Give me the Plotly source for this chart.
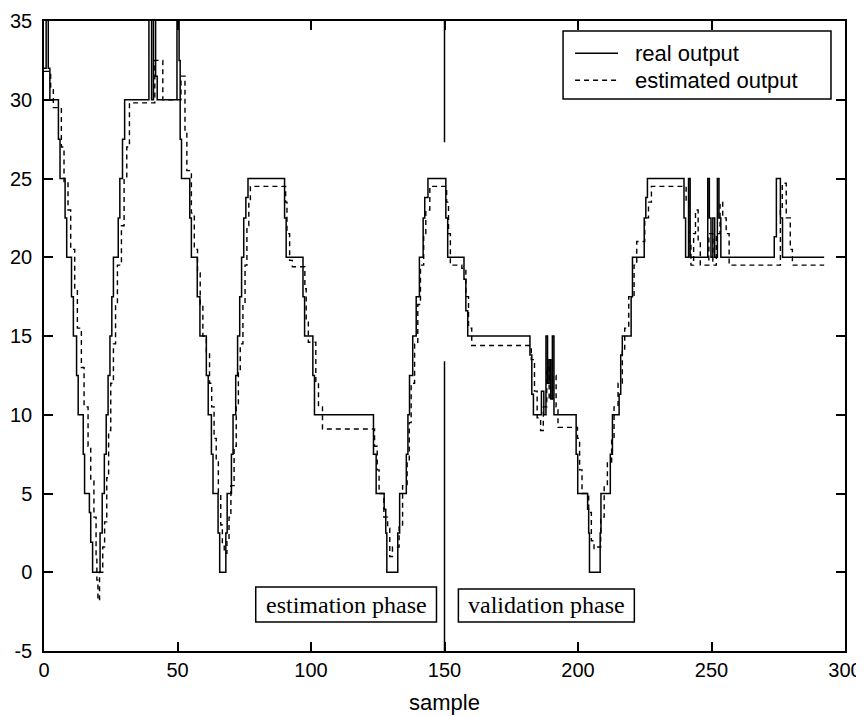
import plotly.graph_objects as go

# ---------------- data ----------------
x_ticks = [0, 50, 100, 150, 200, 250, 300]
y_ticks = [-5, 0, 5, 10, 15, 20, 25, 30, 35]

# real output: sample where each new level starts, and the level
real_x = [0, 0.8, 1.6, 2.2, 5.4, 6, 7.9, 8.5, 10.3, 11, 12.2, 12.8, 14.7, 15.2, 17, 17.5, 18.2,
          21, 21.8, 22.6, 23.3, 24, 24.7, 25.4, 26, 27.8, 28.4, 29.4, 30.2,
          39.3, 40.3, 41, 41.8, 42.4, 49.8, 50.6, 51, 51.5,
          54.6, 55.2, 57.4, 58.4, 60.8, 61.5, 62.7, 63.3, 65.2, 65.8, 68.1, 68.6, 70.2, 70.8, 71.8, 72.5,
          73.3, 74, 74.8, 75.6, 76.4,
          90.1, 90.7, 97, 97.6, 100.7, 101.3,
          123.4, 124.4, 127.4, 128, 128.4, 132.5, 133.2, 135.7, 136.3, 136.9, 138.1, 139.4, 140.6, 142,
          142.6, 143.8,
          150.5, 151.2, 157.3, 158, 158.7, 182, 182.7, 183.3,
          186.3, 187.2, 188, 188.6, 189.2, 189.8, 190.4, 191,
          199.3, 199.9, 203.6, 204, 204.3, 208.3, 208.6, 212.1, 212.9, 215.4, 216, 216.6, 219.9, 220.4,
          224.8, 225.4, 226,
          239.7, 240.3, 241.4, 242, 248.6, 249.2, 249.8, 250.5, 251.2, 252.2, 252.8, 253.5,
          273.5, 274.3, 275.8, 276.6, 292.2]
real_y = [32, 36, 32, 30, 27.5, 25, 22.5, 20, 17.5, 15, 12.5, 10, 7.5, 5, 3.8, 1.9, 0,
          2.5, 5, 7.5, 10, 12.5, 15, 17.5, 20, 22.5, 25, 27.5, 30,
          36, 30, 36, 31.5, 30, 36, 32.5, 27.5, 25,
          22.5, 20, 17.5, 15, 12.5, 10, 7.5, 5, 2.5, 0, 2.5, 5, 7.5, 10, 12.5, 15,
          17.5, 20, 22.5, 23.8, 25,
          22.5, 20, 17.5, 15, 12.5, 10,
          7.5, 5, 4, 2.5, 0, 2.5, 5, 7.5, 10, 12.5, 15, 17.5, 20, 22.5,
          23.8, 25,
          22.5, 20, 18.6, 16.6, 15, 13.8, 11.3, 10,
          11.5, 10, 15, 12, 13.5, 11, 15, 10,
          7.5, 5, 4, 2.5, 0, 2.5, 5, 7.5, 10, 11.3, 13.8, 15, 17.5, 20,
          22.5, 23.8, 25,
          22.5, 20, 25, 20, 25, 22.5, 20, 22.5, 20, 25, 22.5, 20,
          21.3, 25, 22.5, 20, 20]

# estimated output
est_x = [0, 2.5, 3.5, 6.5, 7.5, 9, 10, 11.5, 12.5, 14, 15, 16.5, 17.5, 18.7, 19.5, 19.8, 20.2, 20.8,
         22, 22.7, 23.5, 24.2, 25, 26, 26.8, 27.5, 29, 30, 31, 32,
         41.5, 44.5, 51.3, 52.8, 53.5, 55.2, 56.3, 57.5, 58.5, 59.5,
         60.8, 62, 62.8, 63.7, 64.5, 65.3, 66.2, 66.8, 67.5, 68.5, 69.3, 70, 71.2, 72, 72.8, 73.5,
         74.5, 75.3, 76, 76.7, 77.3,
         90.5, 91, 92, 93, 97.7, 98.2, 99, 101.8, 102.8, 104.3,
         123.8, 124.8, 125.5, 127.3, 128.7, 129.5, 130.5, 133, 134.3, 136, 136.8, 137.5, 138.8, 140,
         141, 142.2, 143, 144.5,
         150.8, 151.5, 152.2, 156.5, 158, 159, 160.2,
         182.5, 183.7, 184.7, 186, 187, 188.3, 189.2, 190.5, 191.8, 192.5,
         199.8, 200.6, 201.5, 204, 205, 206, 207, 208.5, 209.8, 211, 212.6, 213.5, 215, 216.6, 217.5,
         219, 221, 222, 225, 226.4, 227.5,
         240.5, 241.5, 242.3, 243.3, 244, 245, 245.8, 249, 250.5, 251.8, 253.2, 254.2, 255.5, 256.6,
         275.8, 276.5, 278, 279.5, 280.3, 292.2]
est_y = [31.8, 30.8, 29.5, 27, 24.8, 23, 20.5, 18, 15.5, 13, 10.5, 8, 5.8, 3.5, 1, -0.5, -1.8, 0,
         1.6, 3.2, 6, 9, 12, 14.5, 17, 19.5, 22, 25, 27, 29.8,
         32.5, 30, 31.5, 28, 25.5, 22.8, 20.5, 19, 17, 15,
         14, 12, 10.5, 8.5, 7, 5, 3, 1.8, 1.2, 2, 3.5, 5.5, 8, 10.5, 12.8, 14.5,
         17, 19.5, 22, 23.5, 24.5,
         23.5, 21.5, 19.8, 19.4, 18, 16, 14.6, 12, 10.5, 9.1,
         8, 6.5, 5, 3.5, 2.8, 1, 1.6, 3, 5.5, 7, 9.5, 12, 14.5, 17,
         19.5, 21.5, 23, 24.5,
         23.5, 21.5, 19.5, 19.3, 17.5, 15.5, 14.4,
         13.5, 11.5, 9.8, 9, 10.5, 13, 11, 12.5, 10.5, 9.2,
         8.5, 6.5, 5, 3.8, 2, 1.5, 1.6, 3.5, 5.5, 7, 8.5, 10.5, 12, 14, 15.5,
         17.5, 19.5, 21, 22.5, 23.5, 24.5,
         23.5, 21, 19.5, 21.5, 23, 21, 19.5, 21.5, 19.5, 21.5, 23.5, 22.5, 21.5, 19.5,
         23, 24.7, 22.5, 20.5, 19.5, 19.5]

series_names = ["real output", "estimated output"]
phase_labels = ["estimation phase", "validation phase"]
x_title = "sample"
phase_boundary = 150

# ---------------- figure ----------------
SANS = "Liberation Sans, Arial, sans-serif"
SERIF = "Liberation Serif, Times New Roman, serif"

fig = go.Figure()
fig.add_trace(go.Scatter(x=real_x, y=real_y, mode="lines", name=series_names[0],
                         line=dict(color="black", width=1.5, shape="hv")))
fig.add_trace(go.Scatter(x=est_x, y=est_y, mode="lines", name=series_names[1],
                         line=dict(color="black", width=1.4, shape="hv", dash="5px,4px")))

# vertical separator at the phase boundary (two segments)
fig.add_shape(type="line", xref="x", yref="y", x0=phase_boundary, x1=phase_boundary,
              y0=27.3, y1=35, line=dict(color="black", width=1.5))
fig.add_shape(type="line", xref="x", yref="y", x0=phase_boundary, x1=phase_boundary,
              y0=-5, y1=13.4, line=dict(color="black", width=1.5))

# phase text boxes
fig.add_shape(type="rect", xref="x", yref="y", x0=79.3, x1=147, y0=-3.16, y1=-0.94,
              line=dict(color="black", width=1.5), fillcolor="white")
fig.add_shape(type="rect", xref="x", yref="y", x0=155.2, x1=221.1, y0=-3.16, y1=-1.06,
              line=dict(color="black", width=1.5), fillcolor="white")
fig.add_annotation(x=113.2, y=-2.05, xref="x", yref="y", text=phase_labels[0], showarrow=False,
                   font=dict(family=SERIF, size=24, color="black"))
fig.add_annotation(x=188.2, y=-2.1, xref="x", yref="y", text=phase_labels[1], showarrow=False,
                   font=dict(family=SERIF, size=24, color="black"))

# legend box (drawn manually, MATLAB style)
fig.add_shape(type="rect", xref="paper", yref="paper", x0=0.648, x1=0.9825, y0=0.876, y1=0.984,
              line=dict(color="black", width=1.5), fillcolor="white")
fig.add_shape(type="line", xref="paper", yref="paper", x0=0.663, x1=0.7166, y0=0.949, y1=0.949,
              line=dict(color="black", width=1.5))
fig.add_shape(type="line", xref="paper", yref="paper", x0=0.663, x1=0.7166, y0=0.906, y1=0.906,
              line=dict(color="black", width=1.4, dash="5px,4px"))
fig.add_annotation(x=0.7353, y=0.949, xref="paper", yref="paper", text=series_names[0],
                   showarrow=False, xanchor="left", yanchor="middle",
                   font=dict(family=SANS, size=22, color="black"))
fig.add_annotation(x=0.7353, y=0.906, xref="paper", yref="paper", text=series_names[1],
                   showarrow=False, xanchor="left", yanchor="middle",
                   font=dict(family=SANS, size=22, color="black"))

# x axis title
fig.add_annotation(x=0.5, y=-0.0825, xref="paper", yref="paper", text=x_title,
                   showarrow=False, xanchor="center", yanchor="middle",
                   font=dict(family=SANS, size=22, color="black"))

axis_common = dict(showline=True, linecolor="black", linewidth=1.5, mirror="ticks",
                   ticks="inside", ticklen=9, tickwidth=1.5, tickcolor="black",
                   showgrid=False, zeroline=False, automargin=False,
                   tickfont=dict(family=SANS, size=20, color="black"))

fig.update_xaxes(range=[0, 300], tickvals=x_ticks, ticktext=[str(v) for v in x_ticks],
                 **axis_common)
fig.update_yaxes(range=[-5, 35], tickvals=y_ticks, ticktext=[str(v) for v in y_ticks],
                 ticklabelstandoff=6, **axis_common)

# page body has an 8px margin: size and margins compensate so the plot area sits
# at the same place as in the reference window
fig.update_layout(width=856, height=709, margin=dict(l=36, r=19, t=13, b=66, autoexpand=False),
                  paper_bgcolor="white", plot_bgcolor="white", showlegend=False,
                  font=dict(family=SANS, color="black"))

fig.write_html("out.html")
